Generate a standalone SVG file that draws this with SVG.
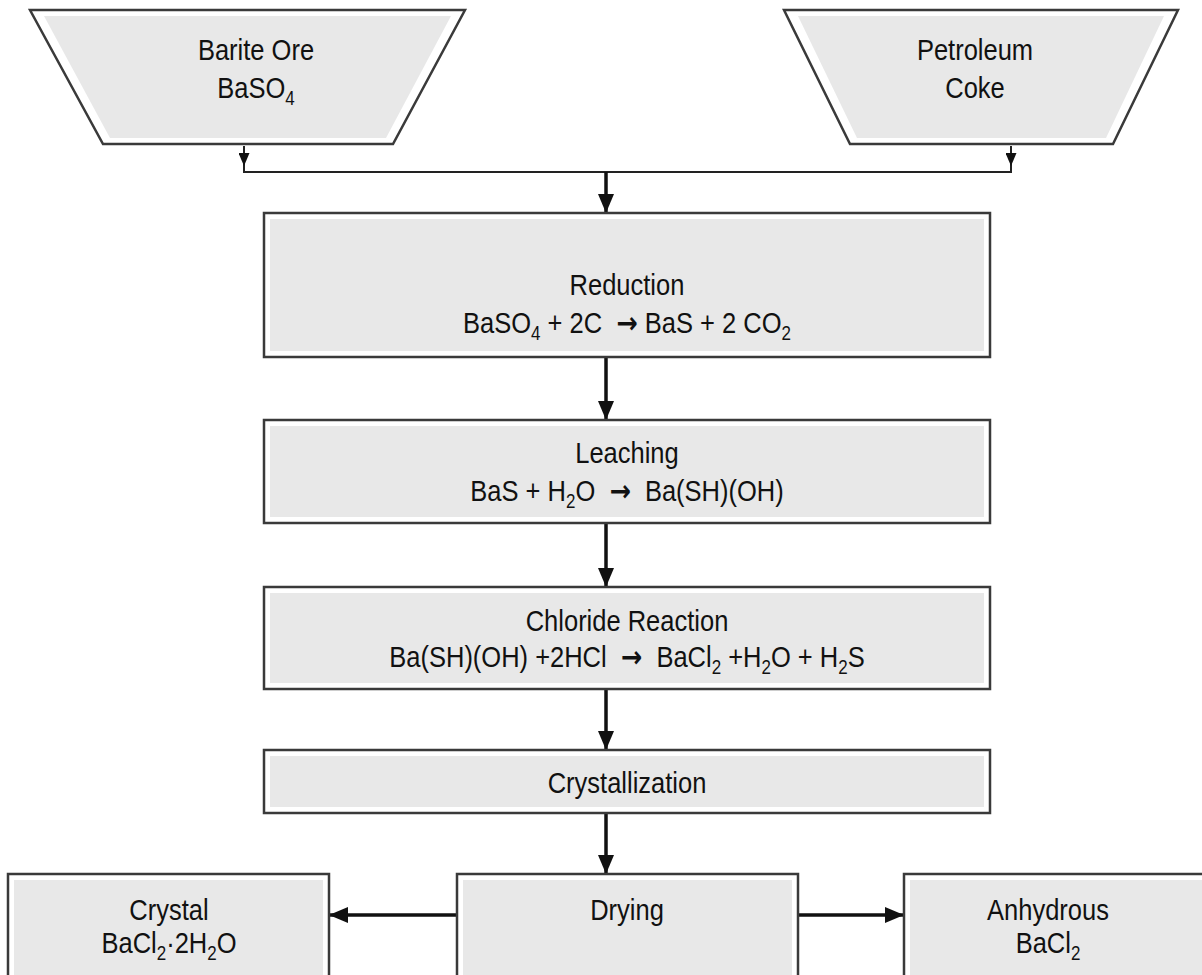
<svg xmlns="http://www.w3.org/2000/svg" width="1202" height="975" viewBox="0 0 1202 975">
<defs>
<style>
.frame{fill:#ffffff;stroke:#3a3a3a;stroke-width:2.5}
.fill{fill:#e8e8e8;stroke:none}
.t{font-family:"Liberation Sans",Arial,sans-serif;font-size:30px;fill:#111;text-anchor:middle;white-space:pre}
.sub{font-size:20px}
.arr{font-family:"DejaVu Sans",sans-serif;font-size:30px;font-weight:bold}
.conn{fill:none;stroke:#111;stroke-width:3.5}
.thin{fill:none;stroke:#222;stroke-width:2}
</style>
<marker id="ah" markerUnits="userSpaceOnUse" markerWidth="19" markerHeight="16" viewBox="0 0 19 16" refX="19" refY="8" orient="auto">
<path d="M0,0 L19,8 L0,16 z" fill="#111"/>
</marker>
<marker id="ahs" markerUnits="userSpaceOnUse" markerWidth="13" markerHeight="11" viewBox="0 0 13 11" refX="13" refY="5.5" orient="auto">
<path d="M0,0 L13,5.5 L0,11 z" fill="#111"/>
</marker>
</defs>
<rect width="1202" height="975" fill="#ffffff"/>

<g id="connectors">
<path class="thin" d="M244,164 V172 H1011 V164"/>
<path class="thin" d="M244,146 V166" marker-end="url(#ahs)"/>
<path class="thin" d="M1011,146 V166" marker-end="url(#ahs)"/>
<path class="conn" d="M606,172 V213" marker-end="url(#ah)"/>
<path class="conn" d="M606,357 V420" marker-end="url(#ah)"/>
<path class="conn" d="M606,523 V587" marker-end="url(#ah)"/>
<path class="conn" d="M606,689 V750" marker-end="url(#ah)"/>
<path class="conn" d="M606,813 V874" marker-end="url(#ah)"/>
<path class="conn" d="M457,915 H329" marker-end="url(#ah)"/>
<path class="conn" d="M798,915 H904" marker-end="url(#ah)"/>
</g>

<g id="barite">
<polygon class="frame" points="30,10 465,10 393,144 103,144"/>
<polygon class="fill" points="44,16 451,16 386,138 110,138"/>
<text class="t" transform="translate(256,60) scale(0.85,1)">Barite Ore</text>
<text class="t" transform="translate(256,98) scale(0.85,1)">BaSO<tspan class="sub" dy="7">4</tspan></text>
</g>

<g id="coke">
<polygon class="frame" points="784,10 1178,10 1113,144 850,144"/>
<polygon class="fill" points="798,16 1164,16 1106,138 857,138"/>
<text class="t" transform="translate(975,60) scale(0.85,1)">Petroleum</text>
<text class="t" transform="translate(975,98) scale(0.85,1)">Coke</text>
</g>

<g id="reduction">
<rect class="frame" x="264" y="213" width="726" height="144"/>
<rect class="fill" x="270" y="219" width="714" height="132"/>
<text class="t" transform="translate(627,295) scale(0.85,1)">Reduction</text>
<text class="t" transform="translate(627,333) scale(0.85,1)">BaSO<tspan class="sub" dy="7">4</tspan><tspan dy="-7"> + 2C  </tspan><tspan class="arr">→</tspan><tspan> BaS + 2 CO</tspan><tspan class="sub" dy="7">2</tspan></text>
</g>

<g id="leaching">
<rect class="frame" x="264" y="420" width="726" height="103"/>
<rect class="fill" x="270" y="426" width="714" height="91"/>
<text class="t" transform="translate(627,463) scale(0.85,1)">Leaching</text>
<text class="t" transform="translate(627,501) scale(0.85,1)">BaS + H<tspan class="sub" dy="7">2</tspan><tspan dy="-7">O  </tspan><tspan class="arr">→</tspan><tspan>  Ba(SH)(OH)</tspan></text>
</g>

<g id="chloride">
<rect class="frame" x="264" y="587" width="726" height="102"/>
<rect class="fill" x="270" y="593" width="714" height="90"/>
<text class="t" transform="translate(627,631) scale(0.85,1)">Chloride Reaction</text>
<text class="t" transform="translate(627,667) scale(0.85,1)">Ba(SH)(OH) +2HCl  <tspan class="arr">→</tspan><tspan>  BaCl</tspan><tspan class="sub" dy="7">2</tspan><tspan dy="-7"> +H</tspan><tspan class="sub" dy="7">2</tspan><tspan dy="-7">O + H</tspan><tspan class="sub" dy="7">2</tspan><tspan dy="-7">S</tspan></text>
</g>

<g id="crystallization">
<rect class="frame" x="264" y="750" width="726" height="63"/>
<rect class="fill" x="270" y="756" width="714" height="51"/>
<text class="t" transform="translate(627,793) scale(0.85,1)">Crystallization</text>
</g>

<g id="crystal">
<rect class="frame" x="8" y="874" width="321" height="120"/>
<rect class="fill" x="14" y="880" width="309" height="110"/>
<text class="t" transform="translate(169,920) scale(0.85,1)">Crystal</text>
<text class="t" transform="translate(169,953) scale(0.85,1)">BaCl<tspan class="sub" dy="7">2</tspan><tspan dy="-7">·2H</tspan><tspan class="sub" dy="7">2</tspan><tspan dy="-7">O</tspan></text>
</g>

<g id="drying">
<rect class="frame" x="457" y="874" width="341" height="120"/>
<rect class="fill" x="463" y="880" width="329" height="110"/>
<text class="t" transform="translate(627,920) scale(0.85,1)">Drying</text>
</g>

<g id="anhydrous">
<rect class="frame" x="904" y="874" width="310" height="120"/>
<rect class="fill" x="910" y="880" width="298" height="110"/>
<text class="t" transform="translate(1048,920) scale(0.85,1)">Anhydrous</text>
<text class="t" transform="translate(1048,953) scale(0.85,1)">BaCl<tspan class="sub" dy="7">2</tspan></text>
</g>
</svg>
